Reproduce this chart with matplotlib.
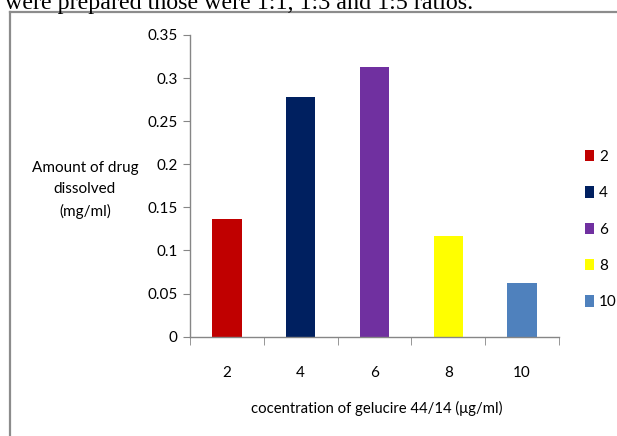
import matplotlib
matplotlib.use("Agg")
import matplotlib.pyplot as plt
from matplotlib.lines import Line2D
from matplotlib.patches import Patch

# data
concentrations = ['2', '4', '6', '8', '10']
amount_dissolved = [0.1365, 0.2775, 0.3125, 0.117, 0.0625]
bar_colors = ['#C00000', '#002060', '#7030A0', '#FFFF00', '#4F81BD']
y_ticks = [0, 0.05, 0.1, 0.15, 0.2, 0.25, 0.3, 0.35]
y_tick_labels = ['0', '0.05', '0.1', '0.15', '0.2', '0.25', '0.3', '0.35']

plt.rcParams['font.family'] = ['Lato', 'DejaVu Sans']
W, H = 617, 436
fig = plt.figure(figsize=(W / 100, H / 100), dpi=100)

# cropped text line from the paper above the chart
fig.text(5 / W, 1 - 9 / H, 'were prepared those were 1:1, 1:3 and 1:5 ratios.',
         family=['Liberation Serif', 'DejaVu Serif'], fontsize=17.3,
         ha='left', va='baseline', color='black')

# chart frame (only left and top edges are visible)
frame_col = '#8c8c8c'
fig.add_artist(Line2D([10.5 / W, 10.5 / W], [0, 1 - 12.5 / H], transform=fig.transFigure,
                      color=frame_col, lw=1.6))
fig.add_artist(Line2D([10.5 / W, 1], [1 - 12.5 / H, 1 - 12.5 / H], transform=fig.transFigure,
                      color=frame_col, lw=1.6))

left, right = 190 / W, 559 / W
bottom, top = 1 - 336.7 / H, 1 - 35 / H
ax = fig.add_axes([left, bottom, right - left, top - bottom])

x = list(range(len(concentrations)))
ax.bar(x, amount_dissolved, width=0.4, color=bar_colors)

ax.set_xlim(-0.5, len(concentrations) - 0.5)
ax.set_ylim(0, 0.35)
ax.set_yticks(y_ticks)
ax.set_yticklabels(y_tick_labels)
ax.set_xticks(x)
ax.set_xticklabels(concentrations)
ax.set_xticks([i - 0.5 for i in range(len(concentrations) + 1)], minor=True)

axis_col = '#868686'
for side in ['top', 'right']:
    ax.spines[side].set_visible(False)
for side in ['left', 'bottom']:
    ax.spines[side].set_color(axis_col)
    ax.spines[side].set_linewidth(1.0)

fs = 11
ax.tick_params(axis='y', length=5, color=axis_col, labelsize=fs, pad=4)
ax.tick_params(axis='x', which='major', length=0, labelsize=fs, pad=21)
ax.tick_params(axis='x', which='minor', length=6, color=axis_col)

fig.text(85 / W, 1 - 190 / H, 'Amount of drug\ndissolved\n(mg/ml)', ha='center', va='center',
         fontsize=fs, linespacing=1.65)
fig.text(377 / W, 1 - 408 / H, 'cocentration of gelucire 44/14 (\u03bcg/ml)', ha='center',
         va='center', fontsize=10.7)

handles = [Patch(facecolor=c, label=l) for c, l in zip(bar_colors, concentrations)]
fig.legend(handles=handles, loc='upper left', bbox_to_anchor=(579 / W, 1 - 144 / H),
           frameon=False, fontsize=fs, handlelength=0.55, handleheight=0.75,
           handletextpad=0.35, labelspacing=1.46, borderaxespad=0)

fig.savefig('out.png', dpi=100)
